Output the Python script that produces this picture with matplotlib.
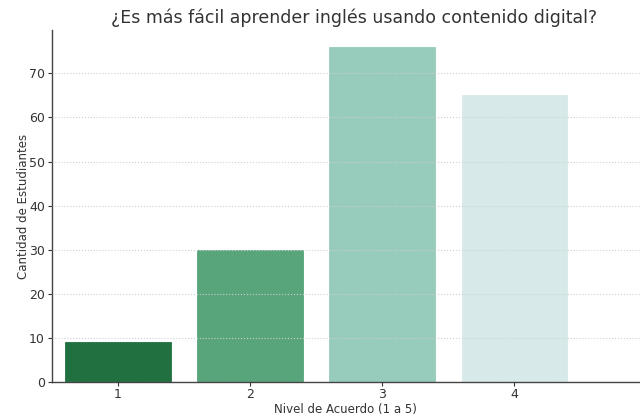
import matplotlib
matplotlib.use("Agg")
import matplotlib.pyplot as plt

# data
niveles = ["1", "2", "3", "4"]
cantidades = [9, 30, 76, 65]
colores = ["#217140", "#58a57c", "#97cbbc", "#d7eae9"]

fig = plt.figure(figsize=(6.4, 4.18), dpi=100)
ax = fig.add_axes([0.081, 0.086, 0.919, 0.842])

x = range(len(niveles))
ax.bar(x, cantidades, width=0.8, color=colores, edgecolor=colores, linewidth=0.6, zorder=1)

ax.set_xticks(list(x))
ax.set_xticklabels(niveles)
ax.set_xlim(-0.5, 3.95)
ax.set_ylim(0, 79.8)
ax.set_yticks(range(0, 80, 10))

ax.grid(axis="y", linestyle=":", color="#d0d0d0", linewidth=0.8, zorder=2)
ax.set_axisbelow(False)

for s in ["top", "right"]:
    ax.spines[s].set_visible(False)
for s in ["left", "bottom"]:
    ax.spines[s].set_color("#444444")
    ax.spines[s].set_linewidth(1.0)

ax.tick_params(axis="both", labelsize=9, colors="#333333", length=3, width=0.8)
ax.tick_params(axis="x", pad=1.5)
ax.tick_params(axis="y", pad=2)

# the reference is cropped on the right, so the title sits a bit right of the axes centre
ax.set_title("¿Es más fácil aprender inglés usando contenido digital?", fontsize=12.5, color="#333333", pad=5, x=0.514)
ax.set_xlabel("Nivel de Acuerdo (1 a 5)", fontsize=8.5, color="#333333", labelpad=1)
ax.set_ylabel("Cantidad de Estudiantes", fontsize=8.5, color="#333333", labelpad=-1)

fig.savefig("out.png", dpi=100)
